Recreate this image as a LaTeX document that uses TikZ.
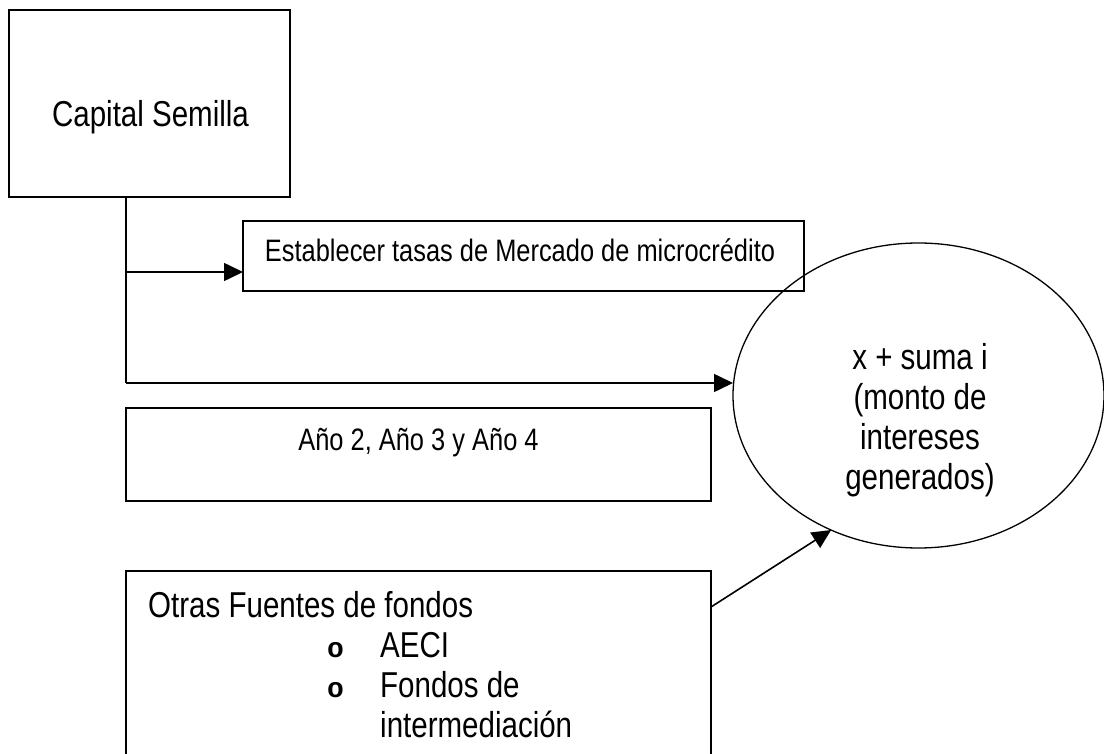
\documentclass[tikz,border=0pt]{standalone}
\usepackage{fontspec}
\setmainfont{Liberation Sans}[FakeStretch=0.82]
\newfontfamily\bulletfont{Liberation Mono}
\usetikzlibrary{shapes.geometric,arrows.meta,positioning}

\begin{document}
\begin{tikzpicture}[x=1pt,y=-1pt]
\tikzstyle{box}=[rectangle,draw=black,line width=1.6pt,
inner sep=0pt,outer sep=0pt]
\tikzstyle{bubble}=[ellipse,draw=black,line width=1.3pt,
inner sep=0pt,outer sep=0pt]
\tikzstyle{big}=[font=\fontsize{36}{40}\selectfont,inner sep=0pt]
\tikzstyle{small}=[font=\fontsize{31}{36}\selectfont,inner sep=0pt]
\tikzstyle{conn}=[line width=1.6pt,-{Triangle[length=19pt,width=18pt]}]

\path[use as bounding box,clip] (0,0) rectangle (1104,754);

\node[box,minimum width=281pt,minimum height=187pt] at (149.5,103.5) (cap) {};
\node[big,anchor=base] at (150.5,127) (capt) {Capital Semilla};
\node[box,minimum width=561pt,minimum height=70pt] at (523.5,256) (est) {};
\node[small,anchor=base] at (520,262) (estt) {Establecer tasas de Mercado de microcrédito};
\node[bubble,minimum width=371pt,minimum height=305pt] at (918.5,395.5) (ell) {};
\node[big,align=center,anchor=north] at (920,343) (ellt) {x + suma i\\(monto de\\intereses\\generados)};
\node[box,minimum width=585pt,minimum height=93pt] at (418.5,454.5) (ano) {};
\node[small,anchor=base] at (418.5,450) (anot) {Año 2, Año 3 y Año 4};
\node[box,minimum width=585pt,minimum height=220pt] at (418.5,681) (otr) {};
\node[big,align=left,anchor=north west] at (148,591) (otrt) {Otras Fuentes de fondos\\
\hspace*{179pt}\makebox[53pt][l]{\fontsize{28}{40}\bulletfont\bfseries o}AECI\\
\hspace*{179pt}\makebox[53pt][l]{\fontsize{28}{40}\bulletfont\bfseries o}Fondos de\\
\hspace*{232pt}intermediación};

\coordinate (trunk) at (126,197);
\coordinate (fork) at (126,272);
\coordinate (knee) at (126,383);
\coordinate (src) at ([yshift=-36pt]otr.north east);

\draw[line width=1.6pt] (trunk) -- (knee);
\draw[conn] (fork) -- (fork -| est.west);
\draw[conn] (knee) -- (knee -| ell.west);
\draw[conn] (src) -- (ell.237);

\end{tikzpicture}
\end{document}
